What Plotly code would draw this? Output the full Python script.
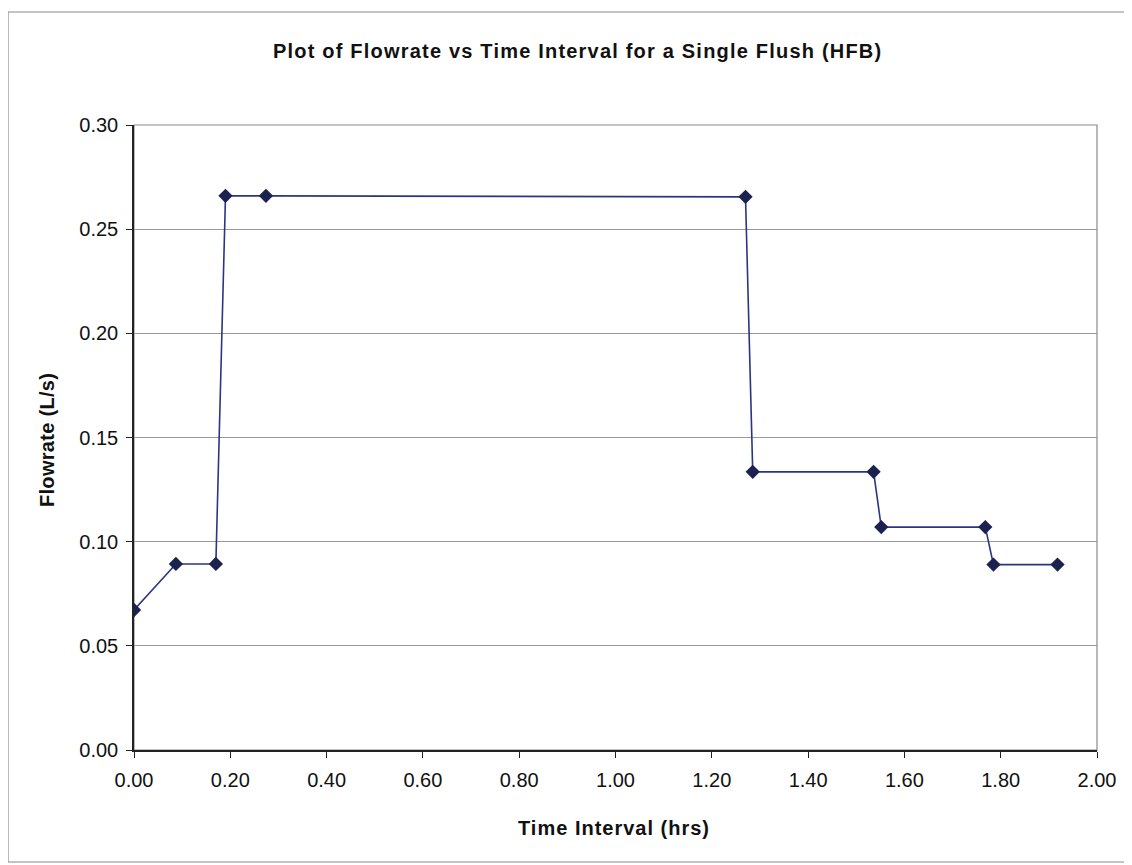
import plotly.graph_objects as go

# Data
time_hrs = [0.00, 0.087, 0.170, 0.190, 0.274, 1.270, 1.285, 1.536, 1.552, 1.768, 1.785, 1.918]
flowrate = [0.0672, 0.0893, 0.0893, 0.2660, 0.2660, 0.2655, 0.1335, 0.1335, 0.1070, 0.1070, 0.0890, 0.0890]

x_ticks = [0.0, 0.2, 0.4, 0.6, 0.8, 1.0, 1.2, 1.4, 1.6, 1.8, 2.0]
y_ticks = [0.0, 0.05, 0.10, 0.15, 0.20, 0.25, 0.30]

title_text = "Plot of Flowrate vs Time Interval for a Single Flush (HFB)"
x_title = "Time Interval (hrs)"
y_title = "Flowrate (L/s)"

FONT = "Liberation Sans, Arial, sans-serif"

fig = go.Figure()
fig.add_trace(go.Scatter(
    x=time_hrs, y=flowrate, mode="lines+markers",
    line=dict(color="#2b3585", width=1.6),
    marker=dict(symbol="diamond", size=11, color="#1c2250"),
    showlegend=False,
))

# page has an 8px body offset
OFF = 8
W, H = 1132, 865
L, R, T, B = 134 - OFF, 1132 - (1097 - OFF), 125 - OFF, 865 - (750 - OFF)
pw, ph = W - L - R, H - T - B

def px_to_paper_x(px):
    return (px - OFF - L) / pw

def px_to_paper_y(py):
    return (H - B - (py - OFF)) / ph

shapes = [
    # outer chart-area border
    dict(type="rect", xref="paper", yref="paper",
         x0=px_to_paper_x(8), x1=px_to_paper_x(1140),
         y0=px_to_paper_y(862), y1=px_to_paper_y(12),
         line=dict(color="#8a8a8a", width=1.2), layer="below"),
    # plot-area border (gray)
    dict(type="rect", xref="paper", yref="paper", x0=0, x1=1, y0=0, y1=1,
         line=dict(color="#8a8a8a", width=1.2), layer="below"),
]

def spaced(t, sp):
    return f'<span style="letter-spacing:{sp}px"><b>{t}</b></span>'

fig.update_layout(
    width=W, height=H,
    margin=dict(l=L, r=R, t=T, b=B),
    paper_bgcolor="white", plot_bgcolor="white",
    font=dict(family=FONT, color="#111111"),
    shapes=shapes,
    annotations=[
        dict(text=spaced(title_text, 1.2), xref="paper", yref="paper",
             x=px_to_paper_x(577), y=px_to_paper_y(51), showarrow=False,
             xanchor="center", yanchor="middle",
             font=dict(family=FONT, size=20, color="#111111")),
        dict(text=spaced(x_title, 1.0), xref="paper", yref="paper",
             x=px_to_paper_x(614), y=px_to_paper_y(828), showarrow=False,
             xanchor="center", yanchor="middle",
             font=dict(family=FONT, size=20, color="#111111")),
        dict(text=spaced(y_title, 0.3), xref="paper", yref="paper",
             x=px_to_paper_x(47), y=px_to_paper_y(440), showarrow=False,
             xanchor="center", yanchor="middle", textangle=-90,
             font=dict(family=FONT, size=20, color="#111111")),
    ],
)

fig.update_xaxes(
    range=[0, 2.0], tickvals=x_ticks, ticktext=[f"{v:.2f}" for v in x_ticks],
    showgrid=False, zeroline=False,
    showline=True, linecolor="#222222", linewidth=1.5,
    ticks="outside", ticklen=6, tickcolor="#222222", ticklabelstandoff=5,
    tickfont=dict(family=FONT, size=20, color="#111111"),
)
fig.update_yaxes(
    range=[0, 0.30], tickvals=y_ticks, ticktext=[f"{v:.2f}" for v in y_ticks],
    showgrid=True, gridcolor="#9a9a9a", gridwidth=1.2,
    zeroline=False,
    showline=True, linecolor="#222222", linewidth=1.5,
    ticks="outside", ticklen=6, tickcolor="#222222", ticklabelstandoff=4,
    tickfont=dict(family=FONT, size=20, color="#111111"),
)

fig.write_html("out.html")
